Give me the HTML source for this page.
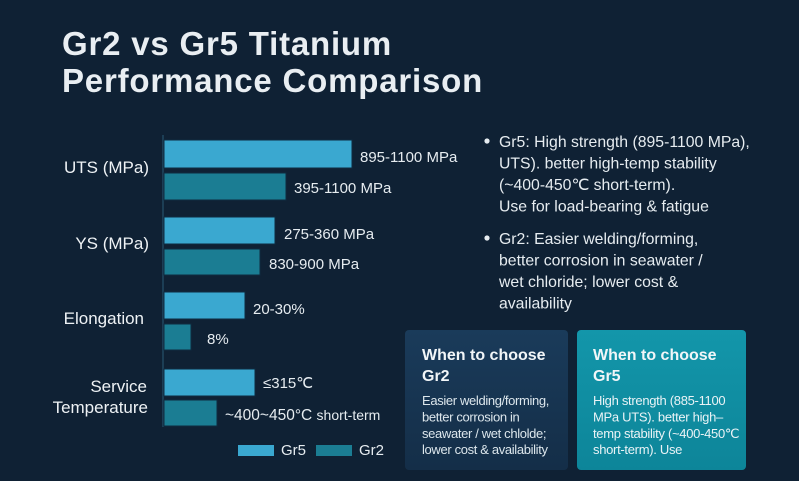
<!DOCTYPE html>
<html><head><meta charset="utf-8"><style>
html,body{margin:0;padding:0;background:#0f2134;}
svg{display:block;}
text{font-family:"Liberation Sans",Arial,sans-serif;}
</style></head><body>
<svg width="799" height="481" viewBox="0 0 799 481" xmlns="http://www.w3.org/2000/svg">
<defs>
<linearGradient id="lc" x1="0" y1="0" x2="0" y2="1"><stop offset="0" stop-color="#1a3b5a"/><stop offset="1" stop-color="#142e48"/></linearGradient>
<linearGradient id="rc" x1="0" y1="0" x2="0" y2="1"><stop offset="0" stop-color="#1396aa"/><stop offset="1" stop-color="#0d8599"/></linearGradient>
</defs>
<rect width="799" height="481" fill="#0f2134"/>
<!-- title -->
<text x="62" y="55" font-size="33" font-weight="bold" fill="#e9eef2" letter-spacing="0.8">Gr2 vs Gr5 Titanium</text>
<text x="62" y="92" font-size="33" font-weight="bold" fill="#e9eef2" letter-spacing="0.8">Performance Comparison</text>
<!-- axis -->
<rect x="162" y="135" width="2" height="292" fill="#1c3e55"/>
<!-- bars -->
<g stroke="#0f2a3f" stroke-width="1">
<rect x="164" y="140" width="188" height="28" fill="#3aa8d0"/>
<rect x="164" y="173" width="122" height="27" fill="#1b7d93"/>
<rect x="164" y="217" width="111" height="27" fill="#3aa8d0"/>
<rect x="164" y="249" width="96" height="26" fill="#1b7d93"/>
<rect x="164" y="292" width="81" height="27" fill="#3aa8d0"/>
<rect x="164" y="324" width="27" height="26" fill="#1b7d93"/>
<rect x="164" y="369" width="91" height="27" fill="#3aa8d0"/>
<rect x="164" y="400" width="53" height="26" fill="#1b7d93"/>
</g>
<!-- category labels -->
<g font-size="17" fill="#eef2f5" text-anchor="end">
<text x="149" y="173">UTS (MPa)</text>
<text x="149" y="249">YS (MPa)</text>
<text x="144" y="324">Elongation</text>
<text x="147" y="392">Service</text>
<text x="148" y="413">Temperature</text>
</g>
<!-- value labels -->
<g font-size="15" fill="#e6ecf0">
<text x="360" y="162">895-1100 MPa</text>
<text x="294" y="193">395-1100 MPa</text>
<text x="284" y="239">275-360 MPa</text>
<text x="269" y="269">830-900 MPa</text>
<text x="253" y="314">20-30%</text>
<text x="207" y="344">8%</text>
<text x="263" y="388">≤315℃</text>
<text x="225" y="420" font-size="15.5">~400~450°C <tspan font-size="14">short-term</tspan></text>
</g>
<!-- legend -->
<rect x="238" y="445" width="36" height="11" fill="#3aa8d0"/>
<text x="281" y="455" font-size="15" fill="#e6ecf0">Gr5</text>
<rect x="316" y="445" width="36" height="11" fill="#1b7d93"/>
<text x="359" y="455" font-size="15" fill="#e6ecf0">Gr2</text>
<!-- bullets -->
<circle cx="487" cy="141" r="2.6" fill="#e6ecf0"/>
<circle cx="487" cy="238" r="2.6" fill="#e6ecf0"/>
<g font-size="15.8" fill="#e6ecf0">
<text x="499" y="147">Gr5: High strength (895-1100 MPa),</text>
<text x="499" y="168.5">UTS). better high-temp stability</text>
<text x="499" y="190">(~400-450℃ short-term).</text>
<text x="499" y="211.5">Use for load-bearing &amp; fatigue</text>
<text x="499" y="244">Gr2: Easier welding/forming,</text>
<text x="499" y="265.5">better corrosion in seawater /</text>
<text x="499" y="287">wet chloride; lower cost &amp;</text>
<text x="499" y="308.5">availability</text>
</g>
<!-- cards -->
<rect x="405" y="330" width="163" height="140" rx="4" fill="url(#lc)"/>
<rect x="577" y="330" width="169" height="140" rx="4" fill="url(#rc)"/>
<g font-size="16" font-weight="bold" fill="#f2f6f8">
<text x="422" y="360">When to choose</text>
<text x="422" y="381">Gr2</text>
<text x="593" y="360">When to choose</text>
<text x="593" y="381">Gr5</text>
</g>
<g font-size="13" fill="#dce6ec" letter-spacing="-0.35">
<text x="422" y="405">Easier welding/forming,</text>
<text x="422" y="421.5">better corrosion in</text>
<text x="422" y="438">seawater / wet chlolde;</text>
<text x="422" y="454">lower cost &amp; availability</text>
</g>
<g font-size="13" fill="#eaf3f6" letter-spacing="-0.3">
<text x="593" y="405">High strength (885-1100</text>
<text x="593" y="421.5">MPa UTS). better high–</text>
<text x="593" y="438">temp stability (~400-450℃</text>
<text x="593" y="454">short-term). Use</text>
</g>
</svg>
</body></html>
